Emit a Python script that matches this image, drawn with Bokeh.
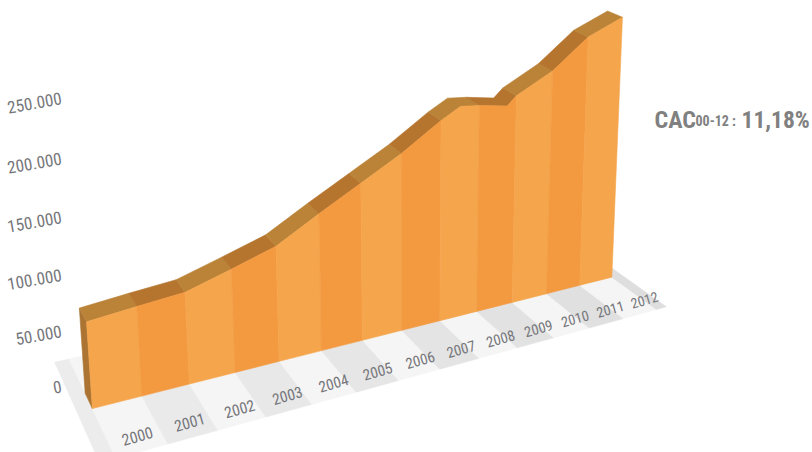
import numpy as np
from bokeh.plotting import figure
from bokeh.models import Range1d, ColumnDataSource
from bokeh.core.properties import value
from bokeh.embed import file_html
from bokeh.resources import INLINE

# --- data ---
years = ["2000","2001","2002","2003","2004","2005","2006","2007","2008","2009","2010","2011","2012"]
profile_pos = [0,1,2,3,4,5,6,7,8,8.5,9,9.75,10,11,12,13]
profile_val = [80,84,87.5,100,113,136,158,180,206,217,215,210,219,239,269,285]
y_ticks = [0,50,100,150,200,250]
y_labels = ["0","50.000","100.000","150.000","200.000","250.000"]

# --- perspective calibration: (band, value, depth) -> page pixels ---
anchors = [
    ((0,0,0),(92,408)),((3,0,0),(234,371)),((6,0,0),(362,338)),((10,0,0),(512,301)),((13,0,0),(612,277)),
    ((0,80,0),(87,323)),((7,180,0),(402,152)),((13,285,0),(624,17)),
    ((0,0,1),(84,392)),((0,80,1),(79,309)),((13,285,1),(605,11)),((4,113,1),(263,232)),
    ((-0.3,0,3.4),(55,364)),((13.3,0,-3),(665,308)),
]
rows, rhs = [], []
for (X,Y,Z),(u,v) in anchors:
    rows.append([X,Y,Z,1,0,0,0,0,-u*X,-u*Y,-u*Z]); rhs.append(u)
    rows.append([0,0,0,0,X,Y,Z,1,-v*X,-v*Y,-v*Z]); rhs.append(v)
m = np.linalg.lstsq(np.array(rows,float),np.array(rhs,float),rcond=None)[0]
M = np.append(m,1).reshape(3,4)
def proj(X,Y,Z):
    w = M @ np.array([X,Y,Z,1.0])
    return w[0]/w[2], w[1]/w[2]
def poly(pts):
    q = [proj(*a) for a in pts]
    return [a[0] for a in q],[a[1] for a in q]

D_FRONT, D_BACK = -3.0, 3.4
FONT = value("Roboto Condensed")
LAB = "#75767a"

p = figure(width=812,height=452,output_backend="svg",toolbar_location=None,
           x_range=Range1d(0,812),y_range=Range1d(452,0),min_border=0,
           outline_line_color=None,background_fill_color="white",border_fill_color="white")
p.axis.visible=False
p.grid.visible=False

def add(polys,colors,alpha=1.0):
    xs=[a[0] for a in polys]; ys=[a[1] for a in polys]
    p.patches(xs=xs,ys=ys,fill_color=colors,line_color=colors,line_width=0.6,fill_alpha=alpha,line_alpha=alpha)

# floor bands
edges=[-0.3]+list(range(14))+[13.3]
fp,fc=[],[]
for i in range(len(edges)-1):
    a,b=edges[i],edges[i+1]
    fp.append(poly([(a,0,D_FRONT),(b,0,D_FRONT),(b,0,D_BACK),(a,0,D_BACK)]))
    if i%2==1:
        fc.append("#f5f5f5")
    else:
        g=int(236-14*i/14)
        fc.append(f"#{g:02x}{g:02x}{g:02x}")
add(fp,fc)

# side, top, front of the area
pos=profile_pos; val=profile_val
add([poly([(0,0,0),(0,val[0],0),(0,val[0],1),(0,0,1)])],["#ab7433"])
tp,tc,fr,frc=[],[],[],[]
for k in range(len(years)):
    idx=[i for i,t in enumerate(pos) if k<=t<=k+1]
    front=[(pos[i],val[i],0) for i in idx]
    back=[(pos[i],val[i],1) for i in idx][::-1]
    tp.append(poly(front+back)); tc.append("#ba8338" if k%2==0 else "#b6752f")
    fr.append(poly([(k,0,0)]+front+[(k+1,0,0)])); frc.append("#f5a54b" if k%2==0 else "#f39a41")
add(tp,tc); add(fr,frc)

# tick labels
yl=[proj(-0.3,v,D_BACK) for v in y_ticks]
y0=yl[0][1]
p.text(x=[61]*6,y=[y0+24-1.08*(y0-a[1]) for a in yl],text=y_labels,text_font=FONT,text_font_size="17px",
       text_color=LAB,angle=np.radians(10),text_align="right",text_baseline="middle")
xl=[proj(0.55+1.04*i,0,-2.15) for i in range(len(years))]
sizes=[f"{s:.1f}px" for s in np.linspace(16,14,len(years))]
src=ColumnDataSource(dict(x=[a[0] for a in xl],y=[a[1] for a in xl],t=years,s=sizes))
p.text(x="x",y="y",text="t",text_font_size="s",source=src,text_font=FONT,text_color=LAB,
       angle=np.radians(16),text_align="center",text_baseline="middle")

# note
for x,y,t,s in [(654,119,"CAC","24px"),(695,120,"00-12 :","14px"),(741,119,"11,18%","23.5px")]:
    p.text(x=[x],y=[y],text=[t],text_font=FONT,text_font_size=s,text_font_style="bold",
           text_color="#808080",text_align="left",text_baseline="alphabetic")

open("out.html","w").write(file_html(p,INLINE))
